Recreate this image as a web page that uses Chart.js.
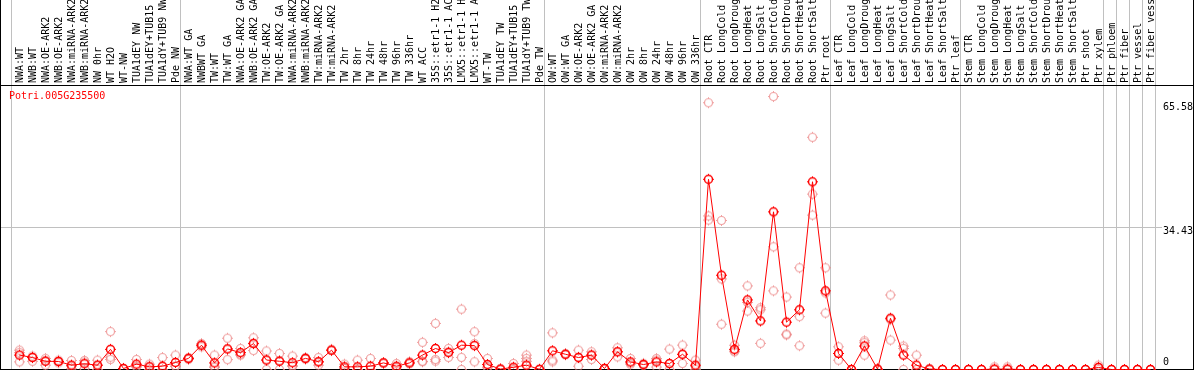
<!DOCTYPE html>
<html>
<head>
<meta charset="utf-8">
<script src="https://cdn.jsdelivr.net/npm/chart.js@4.4.1/dist/chart.umd.min.js"></script>
<style>
  html, body { margin: 0; padding: 0; background: #fff; }
  #chart { display: block; }
</style>
</head>
<body>
<canvas id="chart" width="1194" height="370"></canvas>
<script>
// gene shown in the plot corner
var geneId = "Potri.005G235500";

var samples = [
  "NWA:WT", "NWB:WT", "NWA:OE-ARK2", "NWB:OE-ARK2", "NWA:miRNA-ARK2", "NWB:miRNA-ARK2",
  "NW 0hr", "WT H2O", "WT-NW", "TUA1dEY NW", "TUA1dEY+TUB15 NW", "TUA1dY+TUB9 NW", "Pde NW",
  "NWA:WT GA", "NWBWT GA", "TW:WT", "TW:WT GA", "NWA:OE-ARK2 GA", "NWB:OE-ARK2 GA",
  "TW:OE-ARK2", "TW:OE-ARK2 GA", "NWA:miRNA-ARK2 GA", "NWB:miRNA-ARK2 GA", "TW:miRNA-ARK2",
  "TW:miRNA-ARK2 GA", "TW 2hr", "TW 8hr", "TW 24hr", "TW 48hr", "TW 96hr", "TW 336hr",
  "WT ACC", "35S::etr1-1 H2O", "35S::etr1-1 ACC", "LMX5::etr1-1 H2O", "LMX5::etr1-1 ACC",
  "WT-TW", "TUA1dEY TW", "TUA1dEY+TUB15 TW", "TUA1dY+TUB9 TW", "Pde TW",
  "OW:WT", "OW:WT GA", "OW:OE-ARK2", "OW:OE-ARK2 GA", "OW:miRNA-ARK2", "OW:miRNA-ARK2 GA",
  "OW 2hr", "OW 8hr", "OW 24hr", "OW 48hr", "OW 96hr", "OW 336hr",
  "Root CTR", "Root LongCold", "Root LongDrought", "Root LongHeat", "Root LongSalt",
  "Root ShortCold", "Root ShortDrought", "Root ShortHeat", "Root ShortSalt", "Ptr root",
  "Leaf CTR", "Leaf LongCold", "Leaf LongDrought", "Leaf LongHeat", "Leaf LongSalt",
  "Leaf ShortCold", "Leaf ShortDrought", "Leaf ShortHeat", "Leaf ShortSalt", "Ptr leaf",
  "Stem CTR", "Stem LongCold", "Stem LongDrought", "Stem LongHeat", "Stem LongSalt",
  "Stem ShortCold", "Stem ShortDrought", "Stem ShortHeat", "Stem ShortSalt", "Ptr shoot",
  "Ptr xylem", "Ptr phloem", "Ptr fiber", "Ptr vessel", "Ptr fiber vessel"
];

// first sample index of each block (last entry = end)
var groupStarts = [0, 13, 41, 53, 63, 73, 84, 85, 86, 87, 88];

var means = [
  3.5, 2.9, 2.0, 1.95, 1.05, 1.4, 1.05, 4.9, 0.24, 1.3, 0.65, 0.8, 1.7,
  2.7, 5.9, 1.6, 5.0, 4.1, 6.3, 2.3, 2.0, 1.65, 2.7, 1.9, 4.7, 0.65, 0.65, 0.8, 1.6, 0.8, 1.6,
  3.5, 5.1, 4.1, 5.9, 5.8, 1.2, 0.1, 0.55, 1.05, 0.05,
  4.55, 3.7, 2.9, 3.5, 0.25, 4.3, 1.85, 1.2, 1.85, 1.45, 3.7, 1.05,
  46.2, 22.9, 4.9, 16.9, 11.8, 38.3, 11.5, 14.5, 45.6, 19.1,
  3.9, 0, 5.7, 0.1, 12.45, 3.5, 1.05, 0.1, 0, 0,
  0, 0, 0.1, 0.1, 0, 0, 0, 0, 0, 0, 0.5,
  0, 0, 0, 0
];

var rep1 = [
  4.7, 3.25, 2.7, 2.27, 2.2, 2.2, 2.27, 9.2, 0.3, 2.44, 1.3, 2.9, 3.5,
  2.9, 6.3, 3.5, 7.6, 5.1, 7.7, 4.5, 3.9, 3.25, 2.7, 2.9, 4.9, 1.3, 2.27, 2.68, 1.62, 1.46, 1.87,
  6.6, 11.2, 5.1, 14.65, 9.18, 2.68, 0.2, 1.46, 3.5, 0,
  8.9, 3.9, 4.7, 4.3, 0.3, 5.27, 2.68, 1.5, 2.68, 4.96, 5.93, 2.27,
  64.8, 36.2, 5.9, 20.3, 15.0, 66.3, 17.6, 24.7, 56.4, 24.7,
  5.52, 0, 6.98, 0.2, 18.1, 5.69, 3.49, 0.2, 0, 0,
  0, 0, 0.65, 0.65, 0, 0, 0, 0, 0, 0, 1.05,
  0, 0, 0, 0
];

var rep2 = [
  1.86, 2.0, 1.05, 1.62, 0.8, 1.8, 1.05, 2.44, 0.2, 0.81, 0.8, 0.8, 0.8,
  2.44, 5.5, 0.8, 2.4, 3.5, 4.6, 0, 0, 0.8, 2.5, 1.05, 4.6, 0.3, 0, 0, 1.6, 0.6, 1.6,
  1.87, 2.44, 2.93, 2.93, 1.87, 0.6, 0, 0.2, 2.7, 0,
  2.27, 3.6, 0.8, 2.44, 0.2, 3.08, 1.6, 1.0, 2.27, 1.4, 1.46, 0.8,
  37.3, 22.0, 4.3, 14.2, 14.5, 29.8, 8.6, 12.85, 42.6, 18.6,
  2.27, 0, 3.49, 0, 7.15, 5.1, 0, 0, 0, 0,
  0, 0, 0, 0, 0, 0, 0, 0, 0, 0, 0.6,
  0, 0, 0, 0
];

var rep3 = [
  4.1, 2.9, 2.2, 1.95, 0.2, 0.2, 0, 3.0, 0.2, 0.6, 0, 0, 0.8,
  2.7, 6.0, 0.5, 5.0, 3.7, 6.4, 2.3, 2.2, 0.9, 2.9, 1.7, 4.6, 0.3, 0, 0, 1.6, 0.4, 1.4,
  2.0, 2.03, 4.3, 0, 6.3, 0.4, 0, 0, 2.0, 0,
  1.87, 3.6, 3.0, 3.5, 0.2, 4.3, 1.3, 1.2, 0.6, 0, 3.7, 0,
  36.3, 11.0, 4.5, 16.3, 6.35, 19.1, 8.4, 5.77, 37.5, 13.7,
  3.9, 0, 6.5, 0, 12.1, 0, 0, 0, 0, 0,
  0, 0, 0, 0, 0, 0, 0, 0, 0, 0, 0,
  0, 0, 0, 0
];

var yTicks = [0, 34.43, 65.58];
var yMax = 68.86;

var labelFont = '10px "DejaVu Sans Mono", monospace';

function makeMarker(color, lw) {
  var c = document.createElement("canvas");
  c.width = 15;
  c.height = 15;
  var g = c.getContext("2d");
  g.strokeStyle = color;
  g.fillStyle = color;
  g.lineWidth = lw;
  g.beginPath();
  g.arc(7.5, 7.5, 4, 0, Math.PI * 2);
  g.stroke();
  // little stubs around the ring
  g.fillRect(7, 2, 1, 1);
  g.fillRect(7, 12, 1, 1);
  g.fillRect(2, 7, 1, 1);
  g.fillRect(12, 7, 1, 1);
  return c;
}

var meanMarker = makeMarker("#ff0000", 1.5);
var repMarker = makeMarker("rgba(235,130,130,0.75)", 1.2);

var framePlugin = {
  id: "frame",
  beforeDatasetsDraw: function (chart) {
    var ctx = chart.ctx;
    var xs = chart.scales.x;
    var ys = chart.scales.y;
    var area = chart.chartArea;
    ctx.save();
    ctx.fillStyle = "#c0c0c0";
    groupStarts.forEach(function (b) {
      var x = (xs.getPixelForValue(b - 1) + xs.getPixelForValue(b)) / 2 - 1.5;
      ctx.fillRect(Math.floor(x), 0, 1, chart.height);
    });
    var ym = ys.getPixelForValue(yTicks[1]);
    ctx.fillRect(1, Math.floor(ym), 1161, 1);
    ctx.fillStyle = "#000";
    ctx.fillRect(0, Math.floor(area.top) - 1, chart.width, 1);
    ctx.fillRect(0, Math.floor(area.bottom), chart.width, 1);
    ctx.fillRect(0, 0, 1, chart.height);
    ctx.fillRect(chart.width - 1, 0, 1, chart.height);
    ctx.restore();
  },
  afterDraw: function (chart) {
    var ctx = chart.ctx;
    var xs = chart.scales.x;
    var ys = chart.scales.y;
    var area = chart.chartArea;
    ctx.save();
    ctx.font = labelFont;
    ctx.fillStyle = "#000";
    ctx.textAlign = "left";
    ctx.textBaseline = "middle";
    samples.forEach(function (s, i) {
      ctx.save();
      ctx.translate(xs.getPixelForValue(i) + 1, area.top - 3);
      ctx.rotate(-Math.PI / 2);
      ctx.fillText(s, 0, 0);
      ctx.restore();
    });
    yTicks.forEach(function (v) {
      var y = ys.getPixelForValue(v) + 4;
      y = Math.max(area.top + 21, Math.min(area.bottom - 7.5, y));
      ctx.fillText(String(v), 1163, y);
    });
    ctx.fillStyle = "#ff0000";
    ctx.fillText(geneId, 9, area.top + 10);
    ctx.restore();
  }
};

function repSet(data) {
  return {
    data: data,
    showLine: false,
    pointStyle: repMarker,
    pointRadius: 4,
    order: 1,
    clip: false
  };
}

new Chart(document.getElementById("chart"), {
  type: "line",
  data: {
    labels: samples,
    datasets: [
      {
        data: means,
        borderColor: "#ff0000",
        borderWidth: 1,
        pointStyle: meanMarker,
        pointRadius: 4,
        tension: 0,
        order: 0,
        clip: false
      },
      repSet(rep1),
      repSet(rep2),
      repSet(rep3)
    ]
  },
  options: {
    responsive: false,
    animation: false,
    layout: { autoPadding: false, padding: { left: 19.5, right: 43.5, top: 86, bottom: 0.5 } },
    plugins: { legend: { display: false }, tooltip: { enabled: false } },
    scales: {
      x: { type: "category", display: false, offset: false },
      y: { type: "linear", display: false, min: 0, max: yMax }
    }
  },
  plugins: [framePlugin]
});
</script>
</body>
</html>
